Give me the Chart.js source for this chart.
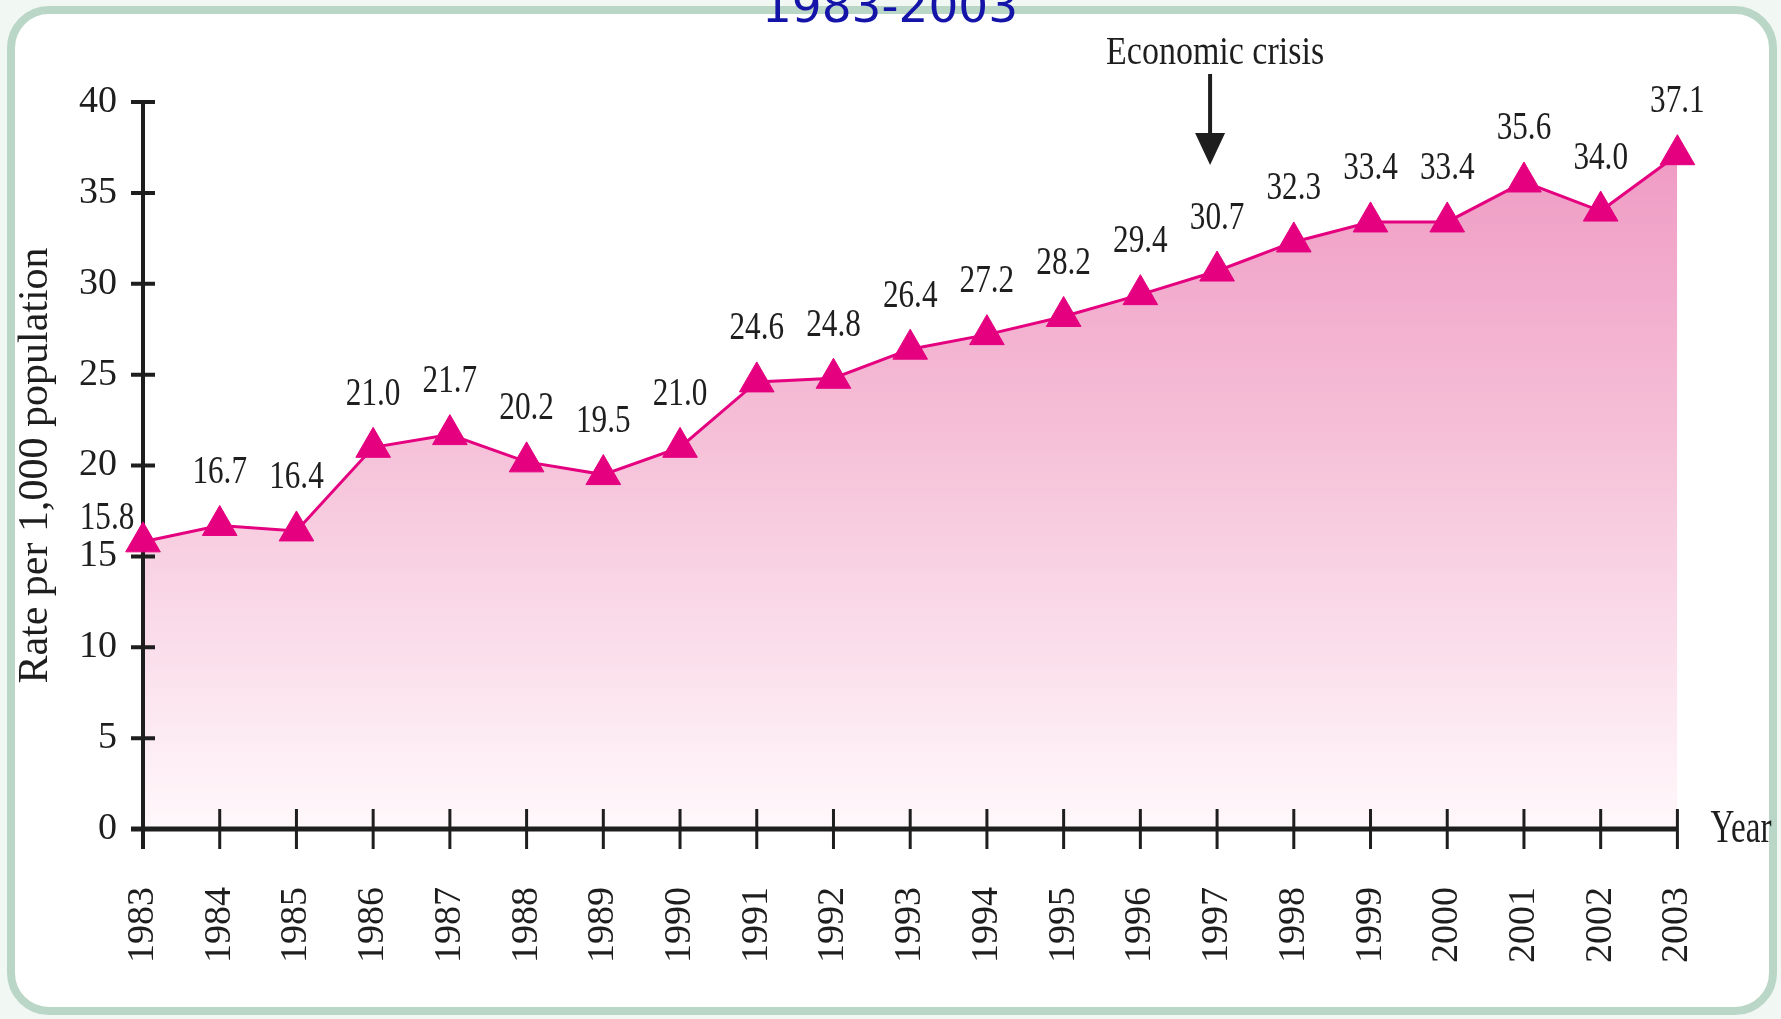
<!DOCTYPE html>
<html>
<head>
<meta charset="utf-8">
<title>Rate per 1,000 population 1983-2003</title>
<script src="https://cdn.jsdelivr.net/npm/chart.js@4/dist/chart.umd.min.js"></script>
<style>
  html, body { margin: 0; padding: 0; background: #f1f7f3; overflow: hidden; }
  #wrap { width: 1781px; height: 1019px; position: relative; }
  #rateChart { display: block; }
</style>
</head>
<body>
<div id="wrap"><canvas id="rateChart"></canvas></div>
<script>
// chart data
const years = ['1983', '1984', '1985', '1986', '1987', '1988', '1989', '1990', '1991', '1992',
  '1993', '1994', '1995', '1996', '1997', '1998', '1999', '2000', '2001', '2002', '2003'];
const rates = [15.8, 16.7, 16.4, 21.0, 21.7, 20.2, 19.5, 21.0, 24.6, 24.8,
  26.4, 27.2, 28.2, 29.4, 30.7, 32.3, 33.4, 33.4, 35.6, 34.0, 37.1];
const yTicks = [0, 5, 10, 15, 20, 25, 30, 35, 40];
const crisisYear = '1997';

const serif = "'Liberation Serif', 'Times New Roman', serif";
const ink = '#1e1e1e';
const pink = '#e4007f';

// the printed figure uses a narrow serif, so squeeze our own texts a bit
function narrowText(ctx, text, x, y, sx) {
  ctx.save();
  ctx.translate(x, y);
  ctx.scale(sx, 1);
  ctx.fillText(text, 0, 0);
  ctx.restore();
}

// frame, blue title and notes round the plot
const framePlugin = {
  id: 'frame',
  beforeDraw(chart) {
    const ctx = chart.ctx;
    ctx.save();
    ctx.beginPath();
    ctx.roundRect(11, 10, 1762, 1001, 38);
    ctx.fillStyle = '#ffffff';
    ctx.fill();
    ctx.lineWidth = 8;
    ctx.strokeStyle = '#b9d6c6';
    ctx.stroke();

    ctx.fillStyle = '#1414a8';
    ctx.font = "47px 'DejaVu Sans', sans-serif";
    ctx.textAlign = 'center';
    ctx.textBaseline = 'alphabetic';
    ctx.fillText('1983-2003', 890, 22);
    ctx.restore();
  },
  afterDraw(chart) {
    const {ctx, scales: {x, y}} = chart;
    ctx.save();
    ctx.fillStyle = ink;
    ctx.strokeStyle = ink;

    // economic crisis arrow over 1997
    const ax = x.getPixelForValue(years.indexOf(crisisYear)) - 7;
    ctx.font = '40px ' + serif;
    ctx.textAlign = 'center';
    ctx.textBaseline = 'alphabetic';
    narrowText(ctx, 'Economic crisis', ax + 5, 64, 0.85);
    ctx.lineWidth = 4;
    ctx.beginPath();
    ctx.moveTo(ax, 74);
    ctx.lineTo(ax, 136);
    ctx.stroke();
    ctx.beginPath();
    ctx.moveTo(ax - 15, 133);
    ctx.lineTo(ax + 15, 133);
    ctx.lineTo(ax, 165);
    ctx.closePath();
    ctx.fill();

    // x axis name
    ctx.font = '46px ' + serif;
    ctx.textAlign = 'left';
    narrowText(ctx, 'Year', x.right + 33, y.getPixelForValue(0) + 13, 0.72);
    ctx.restore();
  }
};

// axis lines with ticks crossing them
const axisPlugin = {
  id: 'axisCross',
  beforeDatasetsDraw(chart) {
    const {ctx, scales: {x, y}} = chart;
    const yb = y.getPixelForValue(0);
    const yt = y.getPixelForValue(40);
    ctx.save();
    ctx.strokeStyle = ink;

    ctx.lineWidth = 3;
    ctx.beginPath();
    x.ticks.forEach((t, i) => {
      const px = x.getPixelForTick(i);
      ctx.moveTo(px, yb - 20);
      ctx.lineTo(px, yb + 20);
    });
    ctx.stroke();

    ctx.lineWidth = 4;
    ctx.beginPath();
    y.ticks.forEach((t, i) => {
      const py = y.getPixelForTick(i);
      ctx.moveTo(x.left - 12, py);
      ctx.lineTo(x.left + 12, py);
    });
    ctx.moveTo(x.left, yt - 2);
    ctx.lineTo(x.left, yb + 20);
    ctx.stroke();

    ctx.lineWidth = 5;
    ctx.beginPath();
    ctx.moveTo(x.left - 12, yb);
    ctx.lineTo(x.right, yb);
    ctx.stroke();
    ctx.restore();
  }
};

// value above each triangle
const valueLabels = {
  id: 'valueLabels',
  afterDatasetsDraw(chart) {
    const ctx = chart.ctx;
    const meta = chart.getDatasetMeta(0);
    ctx.save();
    ctx.fillStyle = ink;
    ctx.font = '40px ' + serif;
    ctx.textAlign = 'center';
    ctx.textBaseline = 'middle';
    meta.data.forEach((pt, i) => {
      const txt = rates[i].toFixed(1);
      if (i === 0) {
        narrowText(ctx, txt, pt.x - 36, pt.y - 23, 0.78);
      } else {
        narrowText(ctx, txt, pt.x, pt.y - 53, 0.78);
      }
    });
    ctx.restore();
  }
};

const ctx = document.getElementById('rateChart').getContext('2d');
new Chart(ctx, {
  type: 'line',
  data: {
    labels: years,
    datasets: [{
      data: rates,
      borderColor: pink,
      borderWidth: 3,
      tension: 0,
      fill: 'origin',
      clip: false,
      backgroundColor: function(context) {
        const area = context.chart.chartArea;
        if (!area) return 'rgba(240,160,200,0.6)';
        const g = context.chart.ctx.createLinearGradient(0, area.top, 0, area.bottom);
        g.addColorStop(0, '#ee94c0');
        g.addColorStop(0.45, '#f5bfd7');
        g.addColorStop(1, '#fff8fb');
        return g;
      },
      pointStyle: 'triangle',
      pointRadius: 20,
      pointHoverRadius: 20,
      pointBackgroundColor: pink,
      pointBorderColor: pink,
      pointBorderWidth: 1
    }]
  },
  options: {
    responsive: true,
    maintainAspectRatio: false,
    animation: false,
    events: [],
    layout: {
      padding: { top: 102, right: 99, left: 0, bottom: 0 }
    },
    plugins: {
      legend: { display: false },
      tooltip: { enabled: false },
      filler: { drawTime: 'beforeDatasetsDraw' }
    },
    scales: {
      x: {
        offset: false,
        grid: { display: false, drawTicks: false },
        border: { display: false },
        ticks: {
          autoSkip: false,
          maxRotation: 90,
          minRotation: 90,
          padding: 58,
          color: ink,
          font: { family: serif, size: 38 }
        },
        afterFit(scale) { scale.height = 190; }
      },
      y: {
        min: 0,
        max: 40,
        afterBuildTicks(scale) {
          scale.ticks = yTicks.map(v => ({ value: v }));
        },
        grid: { display: false, drawTicks: false },
        border: { display: false },
        ticks: {
          padding: 26,
          color: ink,
          font: { family: serif, size: 38 }
        },
        title: {
          display: true,
          text: 'Rate per 1,000 population',
          color: ink,
          font: { family: serif, size: 42 },
          padding: { top: 11, bottom: 0 }
        },
        afterFit(scale) { scale.width = 143; }
      }
    }
  },
  plugins: [framePlugin, axisPlugin, valueLabels]
});
</script>
</body>
</html>
